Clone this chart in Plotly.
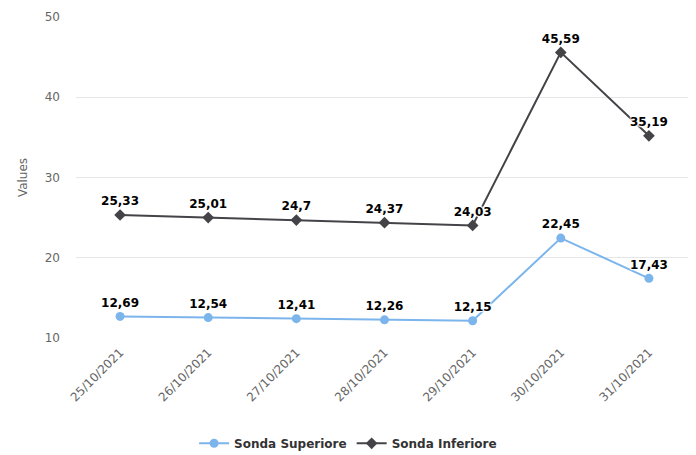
import plotly.graph_objects as go

categories = ["25/10/2021", "26/10/2021", "27/10/2021", "28/10/2021",
              "29/10/2021", "30/10/2021", "31/10/2021"]
sonda_superiore = [12.69, 12.54, 12.41, 12.26, 12.15, 22.45, 17.43]
sonda_inferiore = [25.33, 25.01, 24.7, 24.37, 24.03, 45.59, 35.19]
y_ticks = [10, 20, 30, 40, 50]


def fmt(v):
    return str(v).replace(".", ",")


label_font = dict(family="DejaVu Sans", size=12, color="#000000",
                  weight="bold", shadow="1px 1px 1px #ffffff, -1px -1px 1px #ffffff, 1px -1px 1px #ffffff, -1px 1px 1px #ffffff")

fig = go.Figure()
fig.add_trace(go.Scatter(
    x=categories, y=sonda_superiore, name="Sonda Superiore",
    mode="lines+markers+text", text=[fmt(v) for v in sonda_superiore],
    textposition="top center", textfont=label_font,
    line=dict(color="#7cb5ec", width=2),
    marker=dict(symbol="circle", size=9, color="#7cb5ec"),
    cliponaxis=False,
))
fig.add_trace(go.Scatter(
    x=categories, y=sonda_inferiore, name="Sonda Inferiore",
    mode="lines+markers+text", text=[fmt(v) for v in sonda_inferiore],
    textposition="top center", textfont=label_font,
    line=dict(color="#434348", width=2),
    marker=dict(symbol="diamond", size=9, color="#434348"),
    cliponaxis=False,
))

fig.update_layout(
    width=688, height=447, autosize=False,
    margin=dict(l=68, r=3, t=8.5, b=116.5, autoexpand=False),
    paper_bgcolor="#ffffff", plot_bgcolor="#ffffff",
    font=dict(family="DejaVu Sans", size=12, color="#666666"),
    showlegend=True,
    legend=dict(orientation="h", x=0.441, xanchor="center",
                y=-0.328, yanchor="middle",
                font=dict(family="DejaVu Sans", size=12, color="#333333", weight="bold"),
                tracegroupgap=0),
)
fig.update_xaxes(
    type="category", tickangle=-45, showgrid=False, zeroline=False,
    showline=False, tickfont=dict(size=12, color="#666666"),
    range=[-0.5, 6.5], ticklabelstandoff=4,
)
fig.update_yaxes(
    range=[10, 50], tickvals=y_ticks, showgrid=True, gridcolor="#e6e6e6",
    gridwidth=1, zeroline=False, showline=False,
    tickfont=dict(size=12, color="#666666"), ticklabelstandoff=15,
    title=dict(text="Values", font=dict(size=12, color="#666666"), standoff=14),
)

fig.write_html("out.html")
